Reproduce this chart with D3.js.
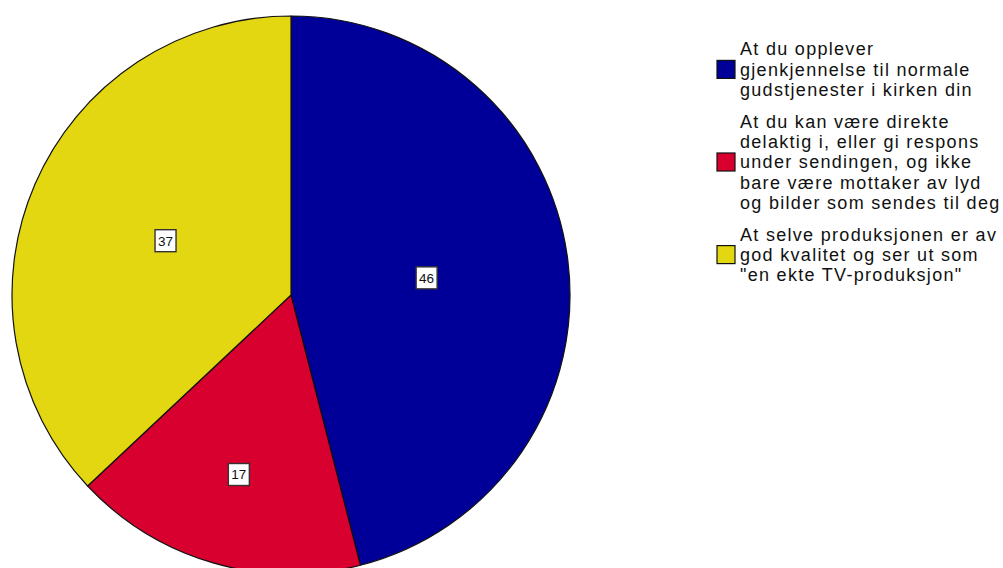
<!DOCTYPE html>
<html>
<head>
<meta charset="utf-8">
<script src="https://cdn.jsdelivr.net/npm/d3@7"></script>
<style>
  body { margin: 0; background: #fff; }
  svg { display: block; font-family: "Liberation Sans", Arial, sans-serif; }
</style>
</head>
<body>
<div id="chart"></div>
<script>
// data
const categories = [
    ["At du opplever", "gjenkjennelse til normale", "gudstjenester i kirken din"],
    ["At du kan være direkte", "delaktig i, eller gi respons", "under sendingen, og ikke", "bare være mottaker av lyd", "og bilder som sendes til deg"],
    ["At selve produksjonen er av", "god kvalitet og ser ut som", "\"en ekte TV-produksjon\""]
];
const values = [46, 17, 37];
const colors = ["#000099", "#d7002f", "#e2d710"];

const width = 1003, height = 568;
const cx = 291, cy = 295, radius = 279;

const svg = d3.select("#chart").append("svg")
    .attr("width", width)
    .attr("height", height);

const data = values.map((v, i) => ({ value: v, lines: categories[i], color: colors[i] }));

const pie = d3.pie()
    .sort(null)
    .value(d => d.value);

const arc = d3.arc()
    .innerRadius(0)
    .outerRadius(radius);

const g = svg.append("g")
    .attr("transform", `translate(${cx}, ${cy})`);

const arcs = pie(data);

g.selectAll("path")
    .data(arcs)
    .join("path")
    .attr("d", arc)
    .attr("fill", d => d.data.color)
    .attr("stroke", "#111")
    .attr("stroke-width", 1.2)
    .attr("stroke-linejoin", "round");

// value labels, small slices pushed further out
const labelArc = d => {
    const r = (d.endAngle - d.startAngle) < 1.2 ? radius * 0.67 : radius * 0.49;
    return d3.arc().innerRadius(r).outerRadius(r).centroid(d);
};

const labels = g.selectAll("g.lbl")
    .data(arcs)
    .join("g")
    .attr("class", "lbl")
    .attr("transform", d => `translate(${labelArc(d)})`);

labels.append("rect")
    .attr("x", -10.5)
    .attr("y", -11)
    .attr("width", 21)
    .attr("height", 22)
    .attr("fill", "#fff")
    .attr("stroke", "#333")
    .attr("stroke-width", 1.4);

labels.append("text")
    .attr("text-anchor", "middle")
    .attr("dy", "0.36em")
    .attr("font-size", 13.5)
    .attr("fill", "#111")
    .text(d => d.data.value);

// legend
const lineH = 20.4, itemGap = 11;
const legend = svg.append("g")
    .attr("transform", "translate(717, 49)");

let yPos = 0;
data.forEach(d => {
    const n = d.lines.length;
    const item = legend.append("g")
        .attr("transform", `translate(0, ${yPos})`);
    const mid = (n - 1) * lineH / 2;
    item.append("rect")
        .attr("x", 0)
        .attr("y", mid - 9)
        .attr("width", 18)
        .attr("height", 18)
        .attr("fill", d.color)
        .attr("stroke", "#111")
        .attr("stroke-width", 1.2);
    item.append("text")
        .attr("font-size", 18)
        .attr("letter-spacing", 1.3)
        .attr("fill", "#111")
        .selectAll("tspan")
        .data(d.lines)
        .join("tspan")
        .attr("x", 23)
        .attr("y", (t, i) => i * lineH)
        .attr("dy", "0.36em")
        .text(t => t);
    yPos += n * lineH + itemGap;
});
</script>
</body>
</html>
